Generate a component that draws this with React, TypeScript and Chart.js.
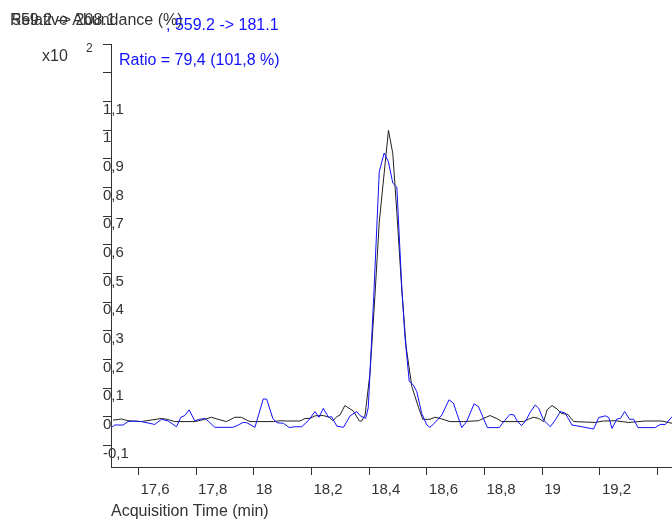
import React, { useEffect, useRef } from 'react';
import { Chart, registerables } from 'chart.js';

Chart.register(...registerables);

const FONT = '"Liberation Sans", Arial, sans-serif';

// Header and axis texts
const Y_TITLE = 'Relative Abundance (%)';
const X_TITLE = 'Acquisition Time (min)';
const BLACK_LABEL = '559.2 -> 208.1';
const BLUE_LABEL = ', 559.2 -> 181.1';
const RATIO_TEXT = 'Ratio = 79,4 (101,8 %)';
const SCALE_TEXT = 'x10';
const SCALE_EXP = '2';

// Axis ticks
const X_TICKS = [17.6, 17.8, 18, 18.2, 18.4, 18.6, 18.8, 19, 19.2, 19.4];
const X_TICK_LABELS = ['17,6', '17,8', '18', '18,2', '18,4', '18,6', '18,8', '19', '19,2', ''];
const Y_TICKS = [-0.1, 0, 0.1, 0.2, 0.3, 0.4, 0.5, 0.6, 0.7, 0.8, 0.9, 1, 1.1, 1.2, 1.3];
const Y_TICK_LABELS = ['-0,1', '0', '0,1', '0,2', '0,3', '0,4', '0,5', '0,6', '0,7', '0,8', '0,9', '1', '1,1', '', ''];

const X_MIN = 17.505;
const X_MAX = 19.45;
const Y_MIN = -0.1743;
const Y_MAX = 1.3;

// Transition 559.2 -> 208.1 (black trace), x10^2 counts
const BLACK_TIMES = [
  17.512, 17.541, 17.564, 17.61, 17.68, 17.699, 17.726, 17.797, 17.83, 17.853,
  17.876, 17.905, 17.934, 17.957, 17.976, 17.987, 18.068, 18.091, 18.114, 18.16,
  18.178, 18.195, 18.212, 18.241, 18.262, 18.274, 18.288, 18.299, 18.316, 18.334,
  18.345, 18.366, 18.374, 18.386, 18.403, 18.42, 18.435, 18.449, 18.467, 18.482,
  18.496, 18.513, 18.528, 18.548, 18.571, 18.586, 18.611, 18.628, 18.646, 18.68,
  18.727, 18.779, 18.796, 18.819, 18.842, 18.86, 18.935, 18.952, 18.969, 18.988,
  19.005, 19.017, 19.034, 19.051, 19.066, 19.089, 19.109, 19.184, 19.213, 19.253,
  19.3, 19.357, 19.415, 19.45,
];
const BLACK_VALUES = [
  -0.011, -0.007, -0.013, -0.016, -0.005, -0.008, -0.016, -0.016, -0.008, -0.001,
  -0.008, -0.016, -0.001, -0.001, -0.011, -0.016, -0.016, -0.013, -0.014, -0.014,
  -0.005, -0.005, 0.004, 0.005, -0.001, -0.013, 0.001, 0.007, 0.04, 0.028,
  0.021, -0.014, -0.014, 0.007, 0.153, 0.421, 0.678, 0.819, 0.999, 0.918,
  0.713, 0.445, 0.246, 0.106, 0.034, -0.008, -0.008, -0.001, -0.005, -0.016,
  -0.016, -0.013, -0.005, 0.005, -0.005, -0.016, -0.016, -0.008, -0.001, -0.005,
  -0.016, 0.025, 0.04, 0.028, 0.013, 0.009, -0.016, -0.019, -0.014, -0.013,
  -0.019, -0.014, -0.014, -0.022,
];

// Transition 559.2 -> 181.1 (blue trace), x10^2 counts
const BLUE_TIMES = [
  17.506, 17.518, 17.547, 17.564, 17.582, 17.61, 17.657, 17.68, 17.703, 17.732,
  17.747, 17.761, 17.776, 17.795, 17.813, 17.83, 17.842, 17.865, 17.928, 17.946,
  17.963, 17.976, 18.004, 18.033, 18.045, 18.066, 18.08, 18.103, 18.123, 18.143,
  18.166, 18.189, 18.212, 18.226, 18.241, 18.259, 18.27, 18.288, 18.311, 18.334,
  18.357, 18.368, 18.388, 18.397, 18.415, 18.435, 18.452, 18.467, 18.482, 18.496,
  18.513, 18.524, 18.539, 18.553, 18.565, 18.582, 18.6, 18.611, 18.628, 18.652,
  18.677, 18.692, 18.706, 18.721, 18.738, 18.764, 18.779, 18.794, 18.81, 18.851,
  18.871, 18.888, 18.902, 18.914, 18.929, 18.944, 18.96, 18.976, 18.988, 19.005,
  19.028, 19.045, 19.063, 19.08, 19.103, 19.138, 19.178, 19.196, 19.219, 19.231,
  19.242, 19.259, 19.271, 19.286, 19.303, 19.317, 19.332, 19.392, 19.409, 19.427,
  19.45,
];
const BLUE_VALUES = [
  -0.037, -0.028, -0.028, -0.016, -0.014, -0.016, -0.026, -0.008, -0.014, -0.034,
  -0.001, 0.005, 0.025, -0.013, -0.008, -0.005, -0.014, -0.036, -0.036, -0.028,
  -0.019, -0.02, -0.036, 0.063, 0.062, -0.005, -0.02, -0.022, -0.037, -0.034,
  -0.034, -0.013, 0.019, -0.001, 0.03, -0.001, 0.001, -0.032, -0.036, 0.004,
  0.019, 0.005, -0.005, 0.033, 0.4, 0.854, 0.92, 0.889, 0.815, 0.801,
  0.456, 0.281, 0.124, 0.112, 0.089, 0.013, -0.028, -0.036, -0.02, 0.007,
  0.06, 0.048, 0.007, -0.037, -0.016, 0.046, 0.036, 0.001, -0.037, -0.037,
  -0.011, 0.009, 0.007, -0.016, -0.03, -0.011, 0.019, 0.042, 0.03, -0.011,
  -0.034, -0.011, 0.019, 0.013, -0.028, -0.034, -0.042, -0.002, 0.004, -0.002,
  -0.04, -0.007, -0.005, 0.019, -0.008, -0.008, -0.037, -0.037, -0.026, -0.026,
  0.001,
];

const AXIS_COLOR = '#333333';
const TEXT_COLOR = '#333333';
const BLUE = '#1010ff';
const BLACK = '#202020';

const toPoints = (times: number[], values: number[]) =>
  times.map((t, i) => ({ x: t, y: values[i] }));

// Draws the header block: axis title, transition labels, multiplier and ratio
const headerPlugin = {
  id: 'chromHeader',
  afterDraw(chart: Chart) {
    const ctx = chart.ctx;
    ctx.save();
    ctx.textAlign = 'left';
    ctx.textBaseline = 'alphabetic';
    ctx.font = `16px ${FONT}`;
    ctx.fillStyle = TEXT_COLOR;
    ctx.fillText(Y_TITLE, 10, 25);
    ctx.fillText(BLACK_LABEL, 12, 25);
    ctx.fillStyle = BLUE;
    ctx.fillText(BLUE_LABEL, 166, 30);
    ctx.fillText(RATIO_TEXT, 119, 65);
    ctx.fillStyle = TEXT_COLOR;
    ctx.fillText(SCALE_TEXT, 42, 61);
    ctx.font = `12px ${FONT}`;
    ctx.fillText(SCALE_EXP, 86, 52);
    ctx.restore();
  },
};

export default function App() {
  const canvasRef = useRef<HTMLCanvasElement | null>(null);

  useEffect(() => {
    const canvas = canvasRef.current;
    if (!canvas) return;
    const chart = new Chart(canvas, {
      type: 'line',
      data: {
        datasets: [
          {
            label: BLUE_LABEL,
            data: toPoints(BLUE_TIMES, BLUE_VALUES),
            borderColor: BLUE,
            borderWidth: 1,
            pointRadius: 0,
            tension: 0,
            fill: false,
          },
          {
            label: BLACK_LABEL,
            data: toPoints(BLACK_TIMES, BLACK_VALUES),
            borderColor: BLACK,
            borderWidth: 1,
            pointRadius: 0,
            tension: 0,
            fill: false,
          },
        ],
      },
      options: {
        responsive: false,
        animation: false,
        devicePixelRatio: 1,
        layout: { padding: { top: 44, left: 103, right: 0, bottom: 0 } },
        plugins: {
          legend: { display: false },
          tooltip: { enabled: false },
          title: { display: false },
        },
        scales: {
          x: {
            type: 'linear',
            min: X_MIN,
            max: X_MAX,
            afterBuildTicks: (scale: any) => {
              scale.ticks = X_TICKS.map((v) => ({ value: v }));
            },
            afterFit: (scale: any) => {
              scale.height = 57;
            },
            ticks: {
              autoSkip: false,
              maxRotation: 0,
              align: 'start',
              labelOffset: 2,
              padding: 6,
              color: TEXT_COLOR,
              font: { family: FONT, size: 15 },
              callback: (_v: any, i: number) => X_TICK_LABELS[i],
            },
            grid: {
              display: true,
              drawOnChartArea: false,
              drawTicks: true,
              tickLength: 8,
              tickColor: AXIS_COLOR,
              lineWidth: 1,
            },
            border: { display: true, color: AXIS_COLOR, width: 1 },
            title: {
              display: true,
              text: X_TITLE,
              align: 'start',
              color: TEXT_COLOR,
              font: { family: FONT, size: 16 },
              padding: { top: 0, bottom: 3 },
            },
          },
          y: {
            type: 'linear',
            min: Y_MIN,
            max: Y_MAX,
            afterBuildTicks: (scale: any) => {
              scale.ticks = Y_TICKS.map((v) => ({ value: v }));
            },
            afterFit: (scale: any) => {
              scale.width = 8;
            },
            ticks: {
              autoSkip: false,
              // mirrored labels start at the tick mark and run across the axis line
              mirror: true,
              crossAlign: 'near',
              padding: -8,
              labelOffset: 8,
              color: TEXT_COLOR,
              font: { family: FONT, size: 15 },
              callback: (_v: any, i: number) => Y_TICK_LABELS[i],
            },
            grid: {
              display: true,
              drawOnChartArea: false,
              drawTicks: true,
              tickLength: 8,
              tickColor: AXIS_COLOR,
              lineWidth: 1,
            },
            border: { display: true, color: AXIS_COLOR, width: 1 },
          },
        },
      },
      plugins: [headerPlugin],
    } as any);
    return () => chart.destroy();
  }, []);

  return (
    <div style={{ position: 'fixed', left: 0, top: 0, width: 672, height: 524, background: '#fff' }}>
      <canvas ref={canvasRef} width={672} height={524} style={{ display: 'block' }} />
    </div>
  );
}
